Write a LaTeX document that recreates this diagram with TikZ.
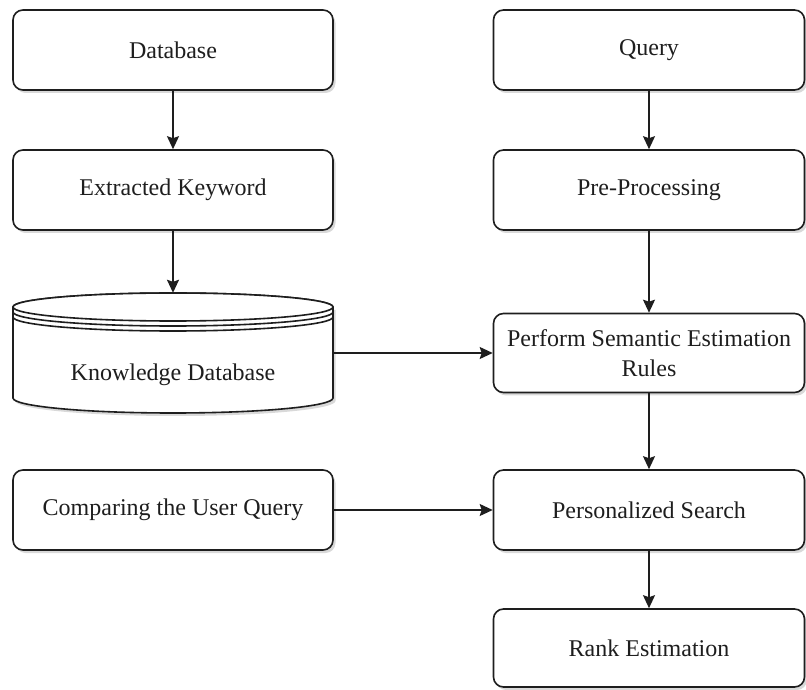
\documentclass[tikz,border=0pt]{standalone}
\usepackage{fontspec}
\setmainfont{Liberation Serif}
\usetikzlibrary{arrows.meta,shadows}
\definecolor{ink}{HTML}{1E1E1E}
\tikzset{
  box/.style={draw=ink, line width=1.6pt, rounded corners=10pt, fill=white,
    minimum width=320pt, minimum height=80pt, inner sep=0pt, align=center,
    font=\fontsize{24}{30}\selectfont, text=ink,
    drop shadow={shadow xshift=2.5pt, shadow yshift=-3pt, opacity=0.3, fill=gray}},
  rbox/.style={box, minimum width=311pt},
  link/.style={draw=ink, line width=1.6pt, -{Stealth[length=13pt,width=12pt,inset=2pt]}},
  cyl/.style={draw=ink, line width=1.6pt, fill=white},
}
\begin{document}
\begin{tikzpicture}[x=1pt,y=1pt]
\useasboundingbox (0,0) rectangle (806,689);

% left column
\node[box] (db)  at (173,639) {Database};
\node[box] (kw)  at (173,499) {Extracted Keyword};

% knowledge database cylinder with its shadow
\fill[gray, opacity=0.3] (15.5,379) -- (15.5,288) arc[start angle=180, end angle=360, x radius=160, y radius=15] -- (335.5,379) -- cycle;
\draw[cyl] (13,382) -- (13,291) arc[start angle=180, end angle=360, x radius=160, y radius=15] -- (333,382)
  arc[start angle=0, end angle=180, x radius=160, y radius=14] -- cycle;
\draw[cyl] (173,382) ellipse[x radius=160, y radius=14];
\draw[ink, line width=1.6pt] (13,377) arc[start angle=180, end angle=360, x radius=160, y radius=14];
\draw[ink, line width=1.6pt] (13,372) arc[start angle=180, end angle=360, x radius=160, y radius=14];
\node[inner sep=0pt, minimum width=320pt, minimum height=120pt] (kdb) at (173,336) {};
\node[text=ink, font=\fontsize{24}{30}\selectfont] (kdbtext) at (173,314) {Knowledge Database};

\node[box] (cmp) at (173,179) {Comparing the User Query};

% right column
\node[rbox] (q)   at (649,639) {Query};
\node[rbox] (pre) at (649,499) {Pre-Processing};
\node[rbox, minimum height=79pt] (sem) at (649,336) {Perform Semantic Estimation\\Rules};
\node[rbox] (ps)  at (649,179) {Personalized Search};
\node[rbox, minimum height=78pt] (rk) at (649,41) {Rank Estimation};

% connectors
\draw[link] (db) -- (kw);
\draw[link] (kw) -- (kdb.north);
\draw[link] (q) -- (pre);
\draw[link] (pre) -- (sem);
\draw[link] (sem) -- (ps);
\draw[link] (ps) -- (rk);
\draw[link] (kdb.east) -- (sem.west);
\draw[link] (cmp) -- (ps);
\end{tikzpicture}
\end{document}
